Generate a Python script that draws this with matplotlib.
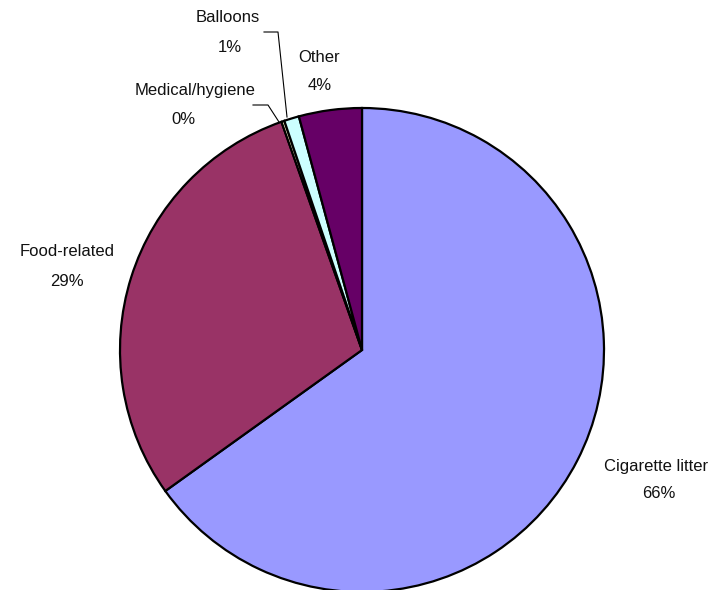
import matplotlib
matplotlib.use("Agg")
import matplotlib.pyplot as plt

plt.rcParams['font.family'] = ['Liberation Sans', 'DejaVu Sans']

# slices, clockwise from 12 o'clock
categories = ["Cigarette litter", "Food-related", "Medical/hygiene", "Balloons", "Other"]
shares = [65.1, 29.5, 0.2, 1.0, 4.2]
shown_pct = ["66%", "29%", "0%", "1%", "4%"]
colors = ["#9999FF", "#993366", "#FFFFCC", "#CCFFFF", "#660066"]

# label anchors in pixel space (name line, percent line)
label_pos = [(656, 466), (67, 252), (195, 91), (228, 18), (319, 58)]
pct_pos = [(659, 494), (67, 281), (183, 119), (230, 47), (320, 86)]

W, H = 721, 590
fig = plt.figure(figsize=(W / 100, H / 100), dpi=100)
ax = fig.add_axes([0, 0, 1, 1])

wedges, _ = ax.pie(shares, colors=colors, startangle=90, counterclock=False,
                   center=(362, 350), radius=242, frame=True,
                   wedgeprops=dict(edgecolor="black", linewidth=1.6))
# pie draws in y-up coords; flip back to pixel orientation
for w in wedges:
    t1, t2 = w.theta1, w.theta2
    w.set_theta1(-t2)
    w.set_theta2(-t1)
ax.set_xlim(0, W)
ax.set_ylim(H, 0)
ax.axis("off")

for name, pct, (lx, ly), (px, py) in zip(categories, shown_pct, label_pos, pct_pos):
    ax.text(lx, ly, name, ha="center", va="center", fontsize=12, color="#111111")
    ax.text(px, py, pct, ha="center", va="center", fontsize=12, color="#111111")

# leader lines for the two thin slices
ax.plot([264, 278, 287], [32, 32, 117], color="black", lw=0.8)
ax.plot([253, 268, 279], [105, 105, 122], color="black", lw=0.8)

fig.savefig("out.png", dpi=100)
